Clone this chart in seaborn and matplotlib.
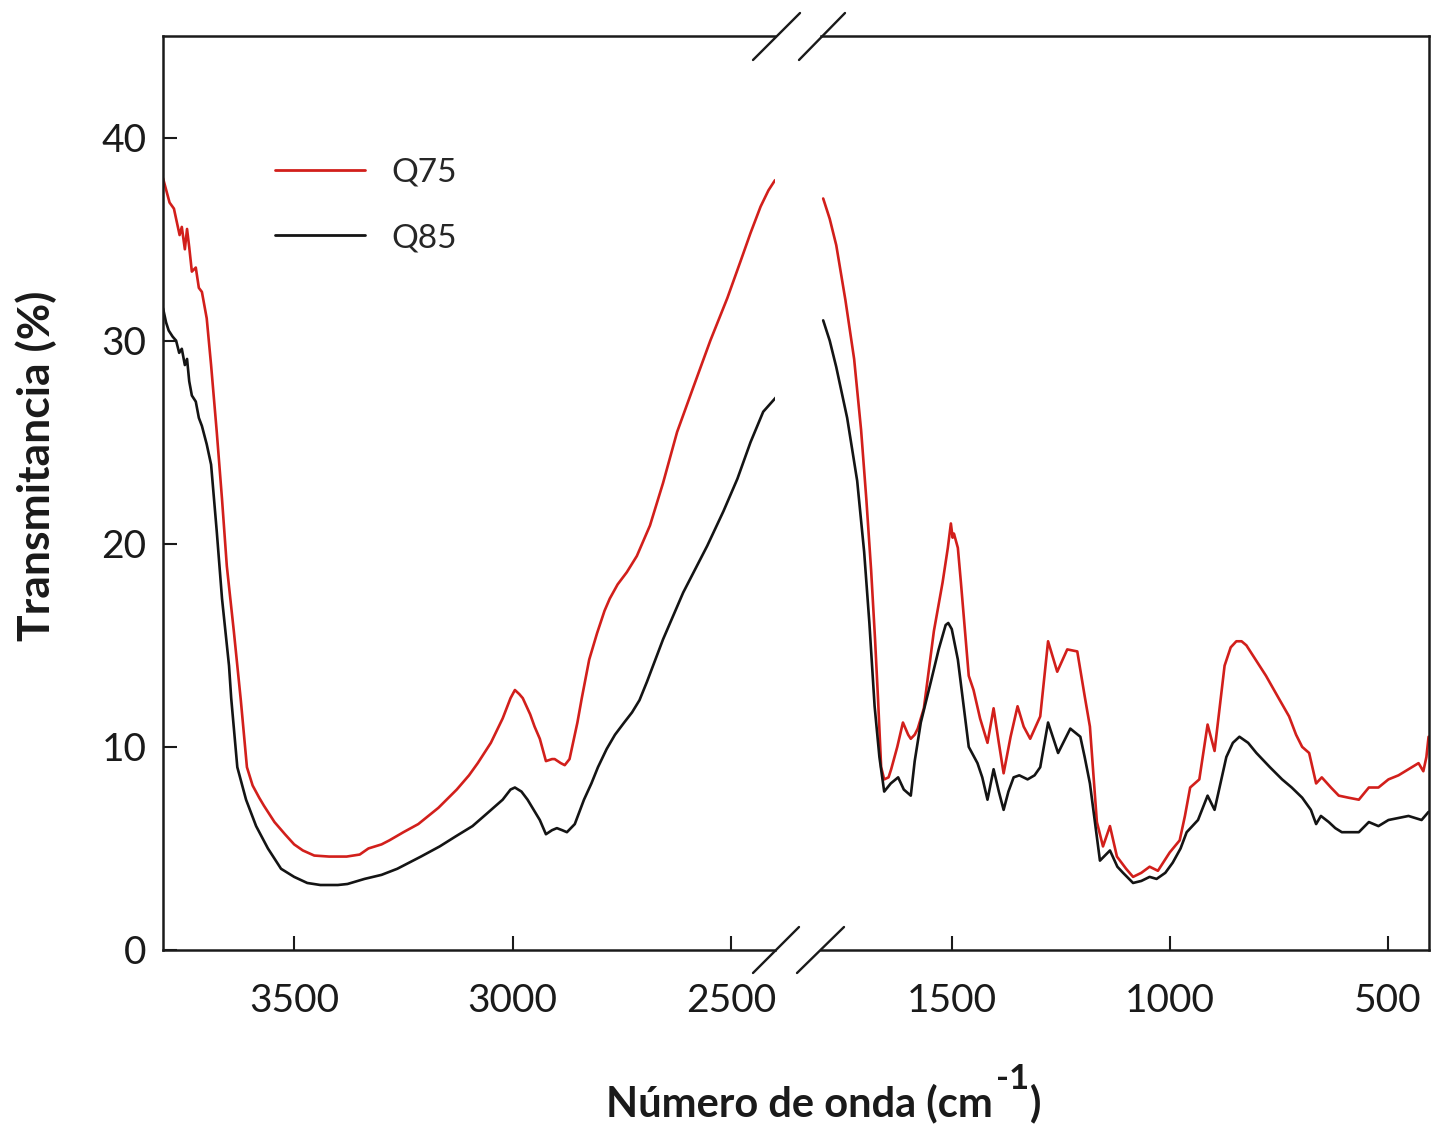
import numpy as np
import pandas as pd
import matplotlib
matplotlib.use("Agg")
import matplotlib.pyplot as plt
import seaborn as sns
from matplotlib.lines import Line2D

# ---------------- data ----------------
# high-wavenumber segment (3800-2400 cm-1)
wn_q75_high = [3800, 3790, 3785, 3775, 3770, 3762, 3757, 3750, 3745, 3740, 3734, 3725, 3718,
               3711, 3700, 3690, 3677, 3665, 3654, 3638, 3622, 3608, 3595, 3580, 3569, 3545,
               3521, 3500, 3480, 3454, 3420, 3380, 3350, 3330, 3300, 3282, 3250, 3216, 3170,
               3128, 3100, 3080, 3050, 3023, 3005, 2995, 2985, 2977, 2960, 2950, 2938, 2924,
               2910, 2904, 2890, 2881, 2870, 2862, 2852, 2842, 2825, 2807, 2790, 2778, 2760,
               2739, 2716, 2700, 2686, 2656, 2624, 2587, 2548, 2509, 2479, 2456, 2433, 2415,
               2400]
t_q75_high = [38.0, 37.2, 36.8, 36.5, 36.0, 35.2, 35.6, 34.5, 35.5, 34.6, 33.4, 33.6, 32.6,
              32.4, 31.1, 28.8, 25.5, 22.2, 18.9, 15.7, 12.3, 9.0, 8.1, 7.5, 7.1, 6.3,
              5.7, 5.2, 4.9, 4.65, 4.6, 4.6, 4.7, 5.0, 5.2, 5.4, 5.8, 6.2, 7.0,
              7.9, 8.6, 9.2, 10.2, 11.4, 12.4, 12.8, 12.6, 12.4, 11.6, 11.0, 10.4, 9.3,
              9.4, 9.4, 9.2, 9.1, 9.4, 10.2, 11.2, 12.4, 14.3, 15.6, 16.7, 17.3, 18.0,
              18.6, 19.4, 20.2, 20.9, 23.0, 25.5, 27.7, 30.0, 32.1, 33.9, 35.3, 36.6, 37.4,
              37.9]

wn_q85_high = [3800, 3793, 3787, 3778, 3770, 3763, 3757, 3750, 3745, 3740, 3734, 3725, 3718,
               3711, 3700, 3690, 3677, 3665, 3649, 3644, 3630, 3610, 3587, 3560, 3530, 3500,
               3470, 3440, 3400, 3378, 3339, 3300, 3264, 3210, 3167, 3130, 3092, 3060, 3023,
               3005, 2995, 2980, 2966, 2952, 2938, 2924, 2910, 2899, 2887, 2876, 2858, 2837,
               2820, 2805, 2785, 2766, 2745, 2727, 2710, 2693, 2656, 2610, 2555, 2518, 2486,
               2456, 2427, 2394]
t_q85_high = [31.6, 30.9, 30.5, 30.2, 30.0, 29.4, 29.6, 28.8, 29.1, 28.0, 27.3, 27.0, 26.2,
              25.8, 24.9, 23.9, 20.6, 17.3, 14.0, 12.4, 9.0, 7.4, 6.1, 5.0, 4.0, 3.6,
              3.3, 3.2, 3.2, 3.25, 3.5, 3.7, 4.0, 4.6, 5.1, 5.6, 6.1, 6.7, 7.4,
              7.9, 8.0, 7.8, 7.4, 6.9, 6.4, 5.7, 5.9, 6.0, 5.9, 5.8, 6.2, 7.4,
              8.2, 9.0, 9.9, 10.6, 11.2, 11.7, 12.3, 13.2, 15.3, 17.6, 19.9, 21.6, 23.2,
              25.0, 26.5, 27.3]

# low-wavenumber segment (1800-400 cm-1)
wn_q75_low = [1795, 1780, 1765, 1744, 1724, 1708, 1696, 1685, 1676, 1669, 1662, 1655, 1645,
              1639, 1625, 1612, 1600, 1594, 1585, 1578, 1564, 1541, 1521, 1509, 1502, 1498,
              1495, 1486, 1479, 1461, 1450, 1435, 1418, 1404, 1392, 1381, 1365, 1349, 1335,
              1320, 1297, 1279, 1258, 1235, 1212, 1195, 1183, 1167, 1153, 1137, 1121, 1100,
              1084, 1065, 1046, 1027, 1000, 977, 965, 953, 932, 913, 897, 874, 860, 847, 835,
              824, 800, 779, 750, 726, 710, 696, 680, 664, 651, 630, 612, 590, 566, 543, 521,
              498, 475, 452, 429, 418, 411, 406]
t_q75_low = [37.0, 36.0, 34.7, 32.0, 29.1, 25.6, 22.2, 18.7, 15.3, 12.3, 9.0, 8.4, 8.5,
             8.9, 10.0, 11.2, 10.6, 10.4, 10.6, 10.9, 11.9, 15.7, 18.1, 19.8, 21.0, 20.3,
             20.5, 19.8, 18.1, 13.5, 12.8, 11.4, 10.2, 11.9, 10.2, 8.7, 10.5, 12.0, 11.0,
             10.4, 11.5, 15.2, 13.7, 14.8, 14.7, 12.5, 11.0, 6.3, 5.1, 6.1, 4.6, 4.0,
             3.6, 3.8, 4.1, 3.9, 4.8, 5.4, 6.6, 8.0, 8.4, 11.1, 9.8, 14.0, 14.9, 15.2, 15.2,
             15.0, 14.2, 13.5, 12.4, 11.5, 10.6, 10.0, 9.7, 8.2, 8.5, 8.0, 7.6, 7.5, 7.4, 8.0, 8.0,
             8.4, 8.6, 8.9, 9.2, 8.8, 9.5, 10.5]

wn_q85_low = [1795, 1780, 1765, 1740, 1717, 1701, 1689, 1677, 1666, 1655, 1640, 1623, 1610,
              1594, 1585, 1571, 1548, 1530, 1514, 1508, 1500, 1486, 1461, 1441, 1430, 1418,
              1404, 1392, 1381, 1370, 1358, 1345, 1326, 1310, 1297, 1279, 1256, 1228, 1205,
              1195, 1183, 1160, 1137, 1120, 1107, 1084, 1065, 1046, 1030, 1010, 993, 975, 961,
              935, 913, 897, 870, 855, 840, 820, 801, 770, 742, 720, 696, 676, 664, 653, 635,
              620, 605, 585, 566, 543, 521, 498, 475, 452, 422, 406]
t_q85_low = [31.0, 30.0, 28.7, 26.2, 23.1, 19.6, 16.1, 12.0, 9.5, 7.8, 8.2, 8.5, 7.9,
             7.6, 9.3, 11.2, 13.2, 14.8, 16.0, 16.1, 15.8, 14.3, 10.0, 9.2, 8.5, 7.4,
             8.9, 7.8, 6.9, 7.8, 8.5, 8.6, 8.4, 8.6, 9.0, 11.2, 9.7, 10.9, 10.5,
             9.5, 8.2, 4.4, 4.9, 4.1, 3.8, 3.3, 3.4, 3.6, 3.5, 3.8, 4.3, 5.0, 5.8,
             6.4, 7.6, 6.9, 9.5, 10.2, 10.5, 10.2, 9.7, 9.0, 8.4, 8.0, 7.5, 6.9, 6.2, 6.6, 6.3,
             6.0, 5.8, 5.8, 5.8, 6.3, 6.1, 6.4, 6.5, 6.6, 6.4, 6.8]

series_names = ["Q75", "Q85"]
series_colors = {"Q75": "#d21f1b", "Q85": "#141414"}

x_ticks_high = [3500, 3000, 2500]
x_ticks_low = [1500, 1000, 500]
y_ticks = [0, 10, 20, 30, 40]

# ---------------- style ----------------
sns.set_theme(style="ticks")
plt.rcParams["font.family"] = ["Lato", "DejaVu Sans"]

W, H = 1431, 1125
fig = plt.figure(figsize=(W / 100, H / 100), dpi=100)

def fx(px):
    return px / W

def fy(py):
    return 1 - py / H

y_top, y_bot = 36, 950
ax1 = fig.add_axes([fx(163), fy(y_bot), fx(775) - fx(163), fy(y_top) - fy(y_bot)])
ax2 = fig.add_axes([fx(821), fy(y_bot), fx(1429) - fx(821), fy(y_top) - fy(y_bot)])

df_high = pd.concat([
    pd.DataFrame({"wn": wn_q75_high, "T": t_q75_high, "sample": "Q75"}),
    pd.DataFrame({"wn": wn_q85_high, "T": t_q85_high, "sample": "Q85"}),
])
df_low = pd.concat([
    pd.DataFrame({"wn": wn_q75_low, "T": t_q75_low, "sample": "Q75"}),
    pd.DataFrame({"wn": wn_q85_low, "T": t_q85_low, "sample": "Q85"}),
])

lw = 1.9
for name in series_names:
    sns.lineplot(data=df_high[df_high["sample"] == name], x="wn", y="T", ax=ax1,
                 color=series_colors[name], lw=lw, sort=False, estimator=None,
                 label=name, legend=False)
    sns.lineplot(data=df_low[df_low["sample"] == name], x="wn", y="T", ax=ax2,
                 color=series_colors[name], lw=lw, sort=False, estimator=None,
                 legend=False)

ax1.set_xlim(3800, 2400)
ax2.set_xlim(1800, 405)
for ax in (ax1, ax2):
    ax.set_ylim(0, 45)
    ax.set_xlabel("")
    ax.set_ylabel("")
    for s in ax.spines.values():
        s.set_linewidth(1.8)
        s.set_color("#1a1a1a")
    ax.tick_params(axis="both", direction="in", length=10, width=1.5,
                   labelsize=28, colors="#1a1a1a", pad=12)

ax1.set_xticks(x_ticks_high)
ax2.set_xticks(x_ticks_low)
ax1.set_yticks(y_ticks)
ax1.tick_params(axis="x", pad=24)
ax2.tick_params(axis="x", pad=24)
ax1.spines["right"].set_visible(False)
ax2.spines["left"].set_visible(False)
ax2.tick_params(axis="y", left=False, labelleft=False, right=False)

# break marks
for (x0, y0, x1, y1) in [(753, 60, 800, 13), (799, 60, 845, 13),
                         (753, 973, 799, 927), (797, 973, 844, 927)]:
    fig.add_artist(Line2D([fx(x0), fx(x1)], [fy(y0), fy(y1)],
                          transform=fig.transFigure, color="#1a1a1a", lw=1.7))

# legend
leg = ax1.legend(loc="upper left", bbox_to_anchor=((275 - 163) / 612, (950 - 158) / 914),
                 frameon=False, fontsize=24, handlelength=2.7, handletextpad=0.8,
                 labelspacing=1.05, borderpad=0, borderaxespad=0)
for h in leg.get_lines():
    h.set_linewidth(2.0)

# axis titles
fig.text(fx(36), fy(466), "Transmitancia (%)", rotation=90, ha="center", va="center",
         fontsize=32, fontweight="bold", color="#1a1a1a")
base_y = fy(1116)
t1 = fig.text(fx(606), base_y, "Número de onda (cm", ha="left", va="baseline",
              fontsize=30, fontweight="bold", color="#1a1a1a")
fig.canvas.draw()
bb = t1.get_window_extent()
t2 = fig.text(bb.x1 / W + 3 / W, base_y + 27 / H, "-1", ha="left", va="baseline",
              fontsize=25, fontweight="bold", color="#1a1a1a")
fig.canvas.draw()
bb2 = t2.get_window_extent()
fig.text(bb2.x1 / W + 1 / W, base_y, ")", ha="left", va="baseline",
         fontsize=30, fontweight="bold", color="#1a1a1a")

fig.savefig("out.png", dpi=100)
